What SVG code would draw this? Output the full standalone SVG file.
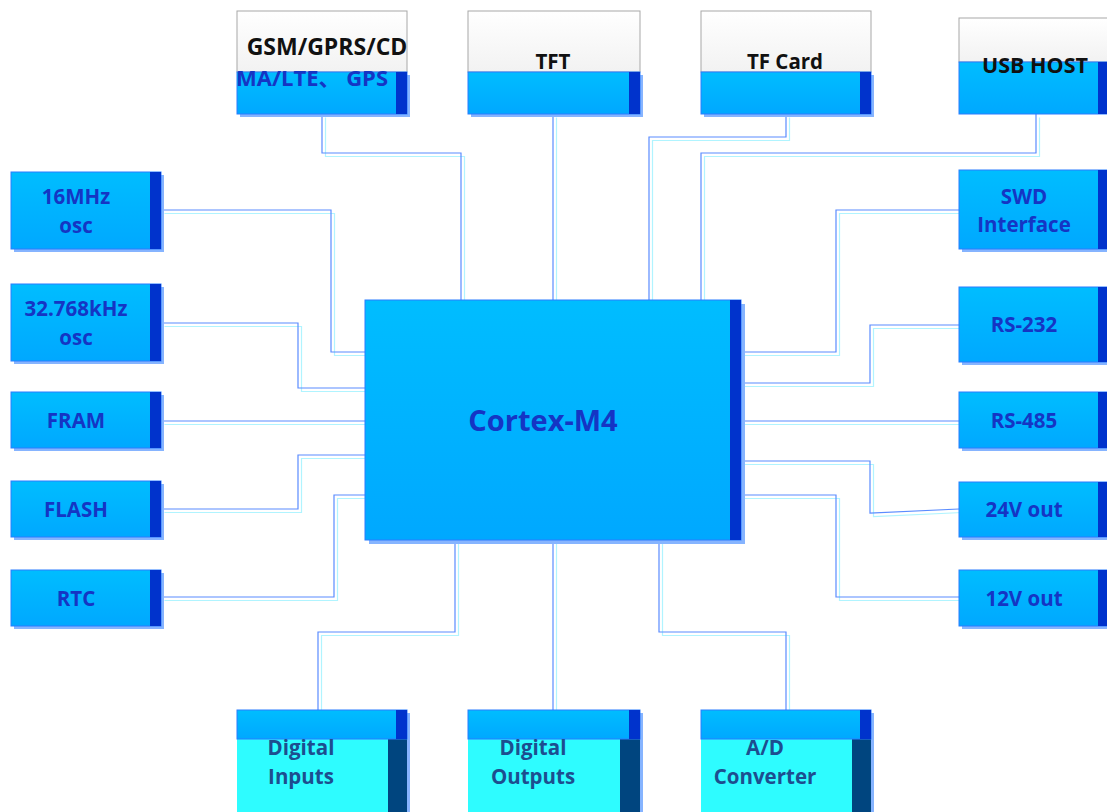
<svg xmlns="http://www.w3.org/2000/svg" width="1107" height="812" viewBox="0 0 1107 812">
<defs>
<linearGradient id="g" x1="0" y1="0" x2="0" y2="1">
<stop offset="0" stop-color="#00bdff"/>
<stop offset="1" stop-color="#00a8ff"/>
</linearGradient>
<linearGradient id="w" x1="0" y1="0" x2="0" y2="1">
<stop offset="0" stop-color="#ffffff"/>
<stop offset="1" stop-color="#f2f2f2"/>
</linearGradient>
</defs>
<style>
.sh{fill:#86b4ff}
.bx{fill:url(#g);stroke:#2a7dff;stroke-width:1}
.bar{fill:#0033cc}
.wt{fill:url(#w);stroke:#a8a8a8;stroke-width:1}
.cy{fill:#2efcff}
.nv{fill:#00457f}
.t{font-family:"Open Sans","Noto Sans","Noto Sans CJK SC",sans-serif;font-weight:bold;font-size:20.5px;fill:#1535c4;text-anchor:middle}
.tb{fill:#111111}
.td{fill:#1d4e8f}
.c1{fill:none;stroke:#5a8cff;stroke-width:1.2}
.c2{fill:none;stroke:#b0f4ff;stroke-width:1.2}
</style>
<rect width="1107" height="812" fill="#ffffff"/>

<g id="connectors">
<g id="lines2" transform="translate(3.5,3.5)" class="c2">
<polyline points="161,210 331,210 331,352 365,352"/>
<polyline points="161,323 298,323 298,388 365,388"/>
<polyline points="161,421 365,421"/>
<polyline points="161,509 298,509 298,455 365,455"/>
<polyline points="161,597 334,597 334,495 365,495"/>
<polyline points="741,352 836,352 836,210 959,210"/>
<polyline points="741,383 870,383 870,325 959,325"/>
<polyline points="741,421 959,421"/>
<polyline points="741,461 870,461 870,513 959,509"/>
<polyline points="741,495 836,495 836,597 959,597"/>
<polyline points="322,114 322,153 461,153 461,300"/>
<polyline points="553,114 553,300"/>
<polyline points="786,114 786,137 649,137 649,300"/>
<polyline points="1036,114 1036,153 701,153 701,300"/>
<polyline points="455,540 455,632 318,632 318,710"/>
<polyline points="553,540 553,710"/>
<polyline points="659,540 659,632 786,632 786,710"/>
</g>
<g id="lines1" class="c1">
<polyline points="161,210 331,210 331,352 365,352"/>
<polyline points="161,323 298,323 298,388 365,388"/>
<polyline points="161,421 365,421"/>
<polyline points="161,509 298,509 298,455 365,455"/>
<polyline points="161,597 334,597 334,495 365,495"/>
<polyline points="741,352 836,352 836,210 959,210"/>
<polyline points="741,383 870,383 870,325 959,325"/>
<polyline points="741,421 959,421"/>
<polyline points="741,461 870,461 870,513 959,509"/>
<polyline points="741,495 836,495 836,597 959,597"/>
<polyline points="322,114 322,153 461,153 461,300"/>
<polyline points="553,114 553,300"/>
<polyline points="786,114 786,137 649,137 649,300"/>
<polyline points="1036,114 1036,153 701,153 701,300"/>
<polyline points="455,540 455,632 318,632 318,710"/>
<polyline points="553,540 553,710"/>
<polyline points="659,540 659,632 786,632 786,710"/>
</g>
</g>

<g id="cortex">
<rect class="sh" x="369" y="304" width="376" height="240"/>
<rect class="bx" x="365" y="300" width="376" height="240"/>
<rect class="bar" x="730" y="300" width="11" height="240"/>
<text class="t" x="543" y="431" style="font-size:29px">Cortex-M4</text>
</g>

<g id="osc16">
<rect class="sh" x="14" y="175" width="150" height="77"/>
<rect class="bx" x="11" y="172" width="150" height="77"/>
<rect class="bar" x="150" y="172" width="11" height="77"/>
<text class="t" x="76" y="204">16MHz</text>
<text class="t" x="76" y="233">osc</text>
</g>
<g id="osc32">
<rect class="sh" x="14" y="287" width="150" height="77"/>
<rect class="bx" x="11" y="284" width="150" height="77"/>
<rect class="bar" x="150" y="284" width="11" height="77"/>
<text class="t" x="76" y="316">32.768kHz</text>
<text class="t" x="76" y="345">osc</text>
</g>
<g id="fram">
<rect class="sh" x="14" y="395" width="150" height="56"/>
<rect class="bx" x="11" y="392" width="150" height="56"/>
<rect class="bar" x="150" y="392" width="11" height="56"/>
<text class="t" x="76" y="428">FRAM</text>
</g>
<g id="flash">
<rect class="sh" x="14" y="484" width="150" height="56"/>
<rect class="bx" x="11" y="481" width="150" height="56"/>
<rect class="bar" x="150" y="481" width="11" height="56"/>
<text class="t" x="76" y="517">FLASH</text>
</g>
<g id="rtc">
<rect class="sh" x="14" y="573" width="150" height="56"/>
<rect class="bx" x="11" y="570" width="150" height="56"/>
<rect class="bar" x="150" y="570" width="11" height="56"/>
<text class="t" x="76" y="606">RTC</text>
</g>

<g id="swd">
<rect class="sh" x="962" y="173" width="150" height="79"/>
<rect class="bx" x="959" y="170" width="150" height="79"/>
<rect class="bar" x="1098" y="170" width="11" height="79"/>
<text class="t" x="1024" y="204">SWD</text>
<text class="t" x="1024" y="232">Interface</text>
</g>
<g id="rs232">
<rect class="sh" x="962" y="290" width="150" height="75"/>
<rect class="bx" x="959" y="287" width="150" height="75"/>
<rect class="bar" x="1098" y="287" width="11" height="75"/>
<text class="t" x="1024" y="332">RS-232</text>
</g>
<g id="rs485">
<rect class="sh" x="962" y="395" width="150" height="56"/>
<rect class="bx" x="959" y="392" width="150" height="56"/>
<rect class="bar" x="1098" y="392" width="11" height="56"/>
<text class="t" x="1024" y="428">RS-485</text>
</g>
<g id="v24">
<rect class="sh" x="962" y="485" width="150" height="55"/>
<rect class="bx" x="959" y="482" width="150" height="55"/>
<rect class="bar" x="1098" y="482" width="11" height="55"/>
<text class="t" x="1024" y="517">24V out</text>
</g>
<g id="v12">
<rect class="sh" x="962" y="573" width="150" height="56"/>
<rect class="bx" x="959" y="570" width="150" height="56"/>
<rect class="bar" x="1098" y="570" width="11" height="56"/>
<text class="t" x="1024" y="606">12V out</text>
</g>

<g id="gsm">
<rect class="sh" x="240" y="75" width="170" height="42"/>
<rect class="wt" x="237" y="11" width="170" height="61"/>
<rect class="bx" x="237" y="72" width="170" height="42"/>
<rect class="bar" x="396" y="72" width="11" height="42"/>
<text class="t tb" x="327" y="55" style="font-size:23px">GSM/GPRS/CD</text>
<text class="t" x="312" y="86" style="font-size:22px">MA/LTE、 GPS</text>
</g>
<g id="tft">
<rect class="sh" x="471" y="75" width="172" height="42"/>
<rect class="wt" x="468" y="11" width="172" height="61"/>
<rect class="bx" x="468" y="72" width="172" height="42"/>
<rect class="bar" x="629" y="72" width="11" height="42"/>
<text class="t tb" x="553" y="69">TFT</text>
</g>
<g id="tfcard">
<rect class="sh" x="704" y="75" width="170" height="42"/>
<rect class="wt" x="701" y="11" width="170" height="61"/>
<rect class="bx" x="701" y="72" width="170" height="42"/>
<rect class="bar" x="860" y="72" width="11" height="42"/>
<text class="t tb" x="785" y="69">TF Card</text>
</g>
<g id="usb">
<rect class="wt" x="959" y="18" width="150" height="44"/>
<rect class="bx" x="959" y="62" width="150" height="52"/>
<rect class="bar" x="1098" y="62" width="11" height="52"/>
<text class="t tb" x="1035" y="73" style="font-size:21.5px">USB HOST</text>
</g>

<g id="din">
<rect class="sh" x="240" y="713" width="170" height="99"/>
<rect class="cy" x="237" y="739" width="170" height="73"/>
<rect class="nv" x="388" y="739" width="19" height="73"/>
<rect class="bx" x="237" y="710" width="170" height="29"/>
<rect class="bar" x="396" y="710" width="11" height="29"/>
<text class="t td" x="301" y="755">Digital</text>
<text class="t td" x="301" y="784">Inputs</text>
</g>
<g id="dout">
<rect class="sh" x="471" y="713" width="172" height="99"/>
<rect class="cy" x="468" y="739" width="172" height="73"/>
<rect class="nv" x="620" y="739" width="20" height="73"/>
<rect class="bx" x="468" y="710" width="172" height="29"/>
<rect class="bar" x="629" y="710" width="11" height="29"/>
<text class="t td" x="533" y="755">Digital</text>
<text class="t td" x="533" y="784">Outputs</text>
</g>
<g id="adc">
<rect class="sh" x="704" y="713" width="170" height="99"/>
<rect class="cy" x="701" y="739" width="170" height="73"/>
<rect class="nv" x="852" y="739" width="19" height="73"/>
<rect class="bx" x="701" y="710" width="170" height="29"/>
<rect class="bar" x="860" y="710" width="11" height="29"/>
<text class="t td" x="765" y="755">A/D</text>
<text class="t td" x="765" y="784">Converter</text>
</g>
</svg>
